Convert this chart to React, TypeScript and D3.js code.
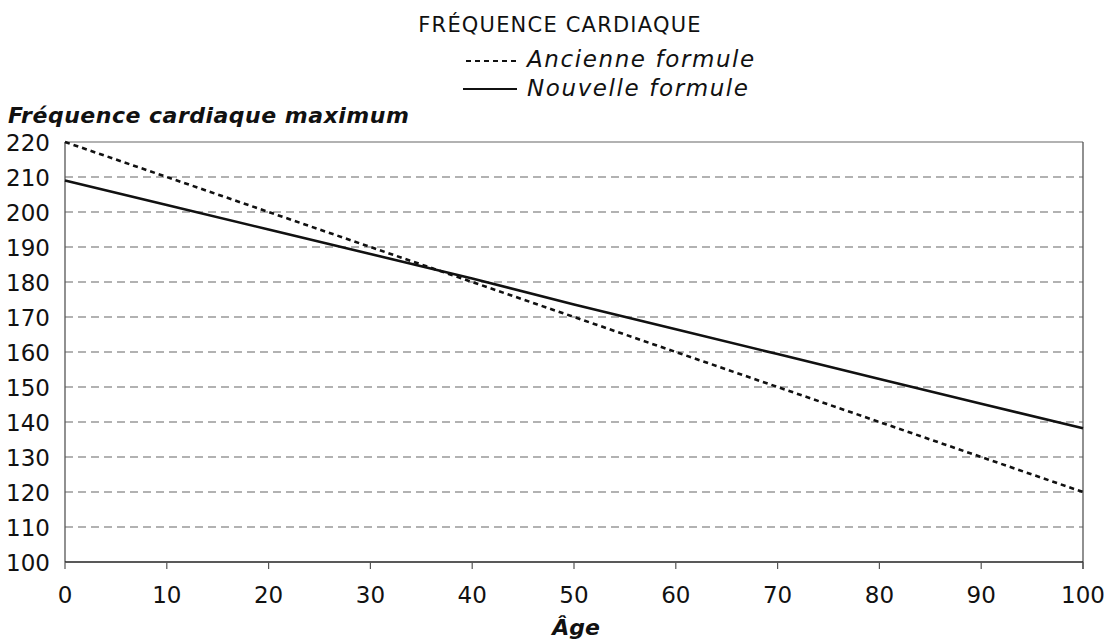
import React from "react";
import * as d3 from "d3";

const ages = [0, 10, 20, 30, 40, 50, 60, 70, 80, 90, 100];
const ancienne = [220, 210, 200, 190, 180, 170, 160, 150, 140, 130, 120];
const nouvelle = [209, 202, 195, 188, 181, 173.6, 166.5, 159.4, 152.3, 145.2, 138.2];
const yTicks = [100, 110, 120, 130, 140, 150, 160, 170, 180, 190, 200, 210, 220];
const xTicks = [0, 10, 20, 30, 40, 50, 60, 70, 80, 90, 100];

const W = 1113, H = 640;
const M = { left: 65, right: 1083, top: 142, bottom: 562 };
const FONT = "'DejaVu Sans', sans-serif";

export default function App() {
  const x = d3.scaleLinear().domain([0, 100]).range([M.left, M.right]);
  const y = d3.scaleLinear().domain([100, 220]).range([M.bottom, M.top]);
  const line = d3.line<number>().x((_, i) => x(ages[i])).y((d) => y(d));

  return (
    <svg width={W} height={H} style={{ position: "absolute", left: 0, top: 0 }} fontFamily={FONT}>
      <rect width={W} height={H} fill="#fff" />
      {yTicks.filter((t) => t > 100 && t < 220).map((t) => (
        <line key={t} x1={M.left} x2={M.right} y1={y(t)} y2={y(t)} stroke="#666" strokeWidth={1.2} strokeDasharray="8,5" />
      ))}
      <line x1={M.left} x2={M.right} y1={M.top} y2={M.top} stroke="#666" strokeWidth={1.2} />
      <line x1={M.right} x2={M.right} y1={M.top} y2={M.bottom + 7} stroke="#555" strokeWidth={1.3} />
      <line x1={M.left} x2={M.left} y1={M.top} y2={M.bottom} stroke="#555" strokeWidth={1.3} />
      <line x1={M.left} x2={M.right} y1={M.bottom} y2={M.bottom} stroke="#222" strokeWidth={1.3} />
      {xTicks.map((t) => (
        <line key={t} x1={x(t)} x2={x(t)} y1={M.bottom} y2={M.bottom + 7} stroke="#555" strokeWidth={1.2} />
      ))}
      <path d={line(ancienne) || ""} fill="none" stroke="#111" strokeWidth={2.6} strokeDasharray="5,4" />
      <path d={line(nouvelle) || ""} fill="none" stroke="#111" strokeWidth={2.6} />
      {yTicks.map((t) => (
        <text key={t} x={50} y={y(t) + 8.5} textAnchor="end" fontSize={23} fill="#111">{t}</text>
      ))}
      {xTicks.map((t) => (
        <text key={t} x={x(t)} y={603} textAnchor="middle" fontSize={23} fill="#111">{t}</text>
      ))}
      <text x={560} y={32} textAnchor="middle" fontSize={21} letterSpacing={1.2} fill="#111">FRÉQUENCE CARDIAQUE</text>
      <line x1={466} x2={516} y1={61} y2={61} stroke="#111" strokeWidth={2.2} strokeDasharray="5,4" />
      <text x={527} y={67} fontSize={23} letterSpacing={1.6} fontStyle="italic" fill="#111">Ancienne formule</text>
      <line x1={463} x2={517} y1={89} y2={89} stroke="#111" strokeWidth={2.2} />
      <text x={527} y={96} fontSize={23} letterSpacing={1.6} fontStyle="italic" fill="#111">Nouvelle formule</text>
      <text x={8} y={123} fontSize={22} letterSpacing={0.5} fontStyle="italic" fontWeight="bold" fill="#111">Fréquence cardiaque maximum</text>
      <text x={576} y={635} textAnchor="middle" fontSize={22} fontStyle="italic" fontWeight="bold" fill="#111">Âge</text>
    </svg>
  );
}
